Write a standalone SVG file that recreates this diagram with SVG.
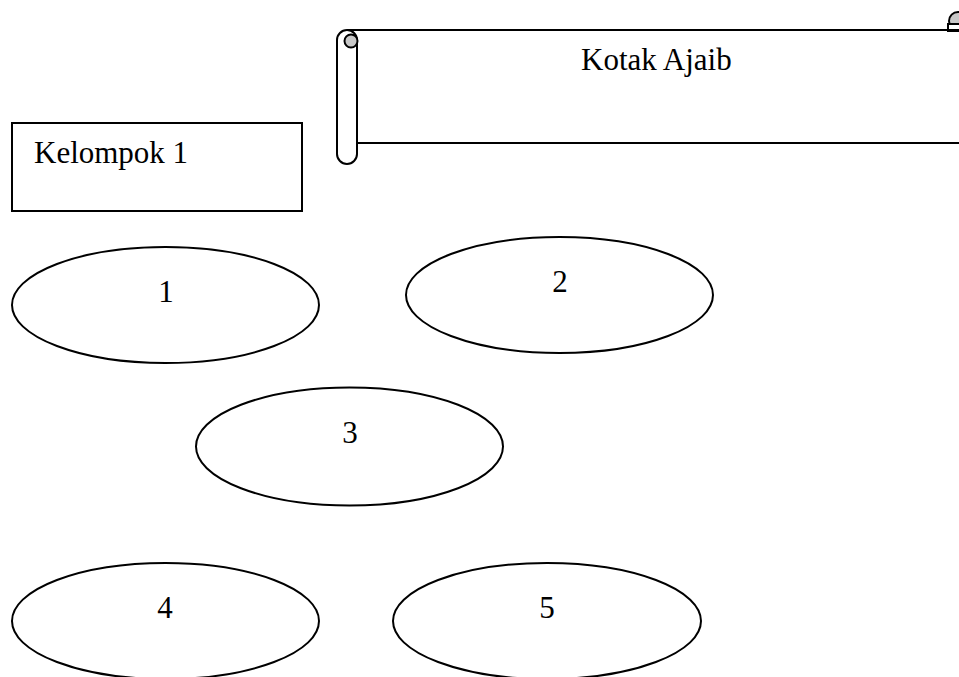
<svg xmlns="http://www.w3.org/2000/svg" width="959" height="677" viewBox="0 0 959 677">
  <style>
    .shape { fill: #ffffff; stroke: #000000; stroke-width: 2; }
    .line { fill: none; stroke: #000000; stroke-width: 2; }
    .curl { fill: #c8c8c8; stroke: #000000; stroke-width: 2; }
    .label { font-family: "Liberation Serif", "Times New Roman", serif; font-size: 31px; fill: #000000; }
    .num { text-anchor: middle; }
  </style>
  <rect width="959" height="677" fill="#ffffff"/>

  <!-- horizontal scroll banner -->
  <g id="scroll">
    <line class="line" x1="347" y1="30" x2="948" y2="30"/>
    <line class="line" x1="357" y1="143" x2="959" y2="143"/>
    <!-- right roll end peeking above the top edge -->
    <circle class="curl" cx="958" cy="21" r="9"/>
    <rect class="shape" x="948" y="24" width="20" height="7"/>
    <line class="line" x1="948" y1="30" x2="959" y2="30"/>
    <!-- left roller -->
    <path class="shape" d="M337,40 A10,10 0 0 1 357,40 L357,154 A10,10 0 0 1 337,154 Z"/>
    <circle class="curl" cx="351" cy="41" r="6.5"/>
    <text class="label" x="581" y="70">Kotak Ajaib</text>
  </g>

  <g id="kelompok">
    <rect class="shape" x="12" y="123" width="290" height="88"/>
    <text class="label" x="34" y="163">Kelompok 1</text>
  </g>

  <g id="node1">
    <ellipse class="shape" cx="165.5" cy="305" rx="153.5" ry="58"/>
    <text class="label num" x="166" y="302">1</text>
  </g>
  <g id="node2">
    <ellipse class="shape" cx="559.5" cy="295" rx="153.5" ry="58"/>
    <text class="label num" x="560" y="292">2</text>
  </g>
  <g id="node3">
    <ellipse class="shape" cx="349.5" cy="446.5" rx="153.5" ry="59"/>
    <text class="label num" x="350" y="443">3</text>
  </g>
  <g id="node4">
    <ellipse class="shape" cx="165.5" cy="621" rx="153.5" ry="58"/>
    <text class="label num" x="165" y="618">4</text>
  </g>
  <g id="node5">
    <ellipse class="shape" cx="547" cy="621" rx="154" ry="58"/>
    <text class="label num" x="547" y="618">5</text>
  </g>

  <g id="connectors"></g>
</svg>
